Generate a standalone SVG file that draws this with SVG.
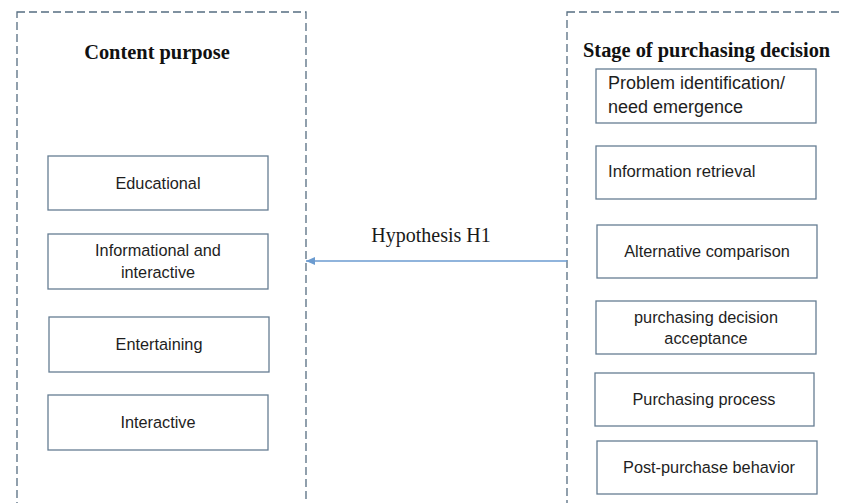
<svg xmlns="http://www.w3.org/2000/svg" width="843" height="503" viewBox="0 0 843 503">
  <style>
    .frame { fill: none; stroke: #566d81; stroke-width: 1.3; stroke-dasharray: 8 4; }
    .box { fill: #ffffff; stroke: #667d93; stroke-width: 1.3; }
    .lbl { font-family: "Liberation Sans", Arial, sans-serif; font-size: 16.3px; fill: #1e1e1e; }
    .ttl { font-family: "Liberation Serif", "Times New Roman", serif; font-weight: bold; font-size: 20.4px; fill: #111111; }
    .hyp { font-family: "Liberation Serif", "Times New Roman", serif; font-size: 20px; fill: #1a1a1a; }
    .conn { stroke: #6b9bd0; stroke-width: 1.5; fill: none; }
  </style>
  <defs>
    <marker id="arrow" viewBox="0 0 10 10" refX="10" refY="5" markerWidth="9" markerHeight="8" markerUnits="userSpaceOnUse" orient="auto" preserveAspectRatio="none">
      <path d="M0,0 L10,5 L0,10 z" fill="#6b9bd0"/>
    </marker>
  </defs>
  <rect width="843" height="503" fill="#ffffff"/>

  <g id="content-purpose">
    <rect class="frame" x="17" y="12" width="289" height="500"/>
    <text class="ttl" x="157" y="59" text-anchor="middle">Content purpose</text>
  </g>
  <g id="educational">
    <rect class="box" x="48" y="156" width="220" height="54"/>
    <text class="lbl" x="158" y="189" text-anchor="middle">Educational</text>
  </g>
  <g id="informational">
    <rect class="box" x="48" y="234" width="220" height="55"/>
    <text class="lbl" x="158" y="256" text-anchor="middle">Informational and</text>
    <text class="lbl" x="158" y="278" text-anchor="middle">interactive</text>
  </g>
  <g id="entertaining">
    <rect class="box" x="49" y="317" width="220" height="55"/>
    <text class="lbl" x="159" y="350" text-anchor="middle">Entertaining</text>
  </g>
  <g id="interactive">
    <rect class="box" x="48" y="395" width="220" height="55"/>
    <text class="lbl" x="158" y="428" text-anchor="middle">Interactive</text>
  </g>

  <g id="stage-of-purchasing-decision">
    <rect class="frame" x="567" y="12" width="300" height="500"/>
    <text class="ttl" x="583" y="57">Stage of purchasing decision</text>
  </g>
  <g id="problem-identification">
    <rect class="box" x="596" y="69" width="220" height="54"/>
    <text class="lbl" x="608" y="89" style="font-size:18px">Problem identification/</text>
    <text class="lbl" x="608" y="113" style="font-size:18px">need emergence</text>
  </g>
  <g id="information-retrieval">
    <rect class="box" x="596" y="146" width="220" height="53"/>
    <text class="lbl" x="608" y="177" style="font-size:16.7px">Information retrieval</text>
  </g>
  <g id="alternative-comparison">
    <rect class="box" x="597" y="225" width="220" height="53"/>
    <text class="lbl" x="707" y="257" text-anchor="middle">Alternative comparison</text>
  </g>
  <g id="purchasing-decision-acceptance">
    <rect class="box" x="596" y="301" width="220" height="53"/>
    <text class="lbl" x="706" y="323" text-anchor="middle">purchasing decision</text>
    <text class="lbl" x="706" y="344" text-anchor="middle">acceptance</text>
  </g>
  <g id="purchasing-process">
    <rect class="box" x="595" y="373" width="219" height="53"/>
    <text class="lbl" x="704" y="405" text-anchor="middle">Purchasing process</text>
  </g>
  <g id="post-purchase-behavior">
    <rect class="box" x="597" y="441" width="220" height="53"/>
    <text class="lbl" x="709" y="473" text-anchor="middle">Post-purchase behavior</text>
  </g>

  <g id="connectors">
    <line class="conn" x1="567" y1="261" x2="306" y2="261" marker-end="url(#arrow)"/>
    <text class="hyp" x="431" y="242" text-anchor="middle">Hypothesis H1</text>
  </g>
</svg>
